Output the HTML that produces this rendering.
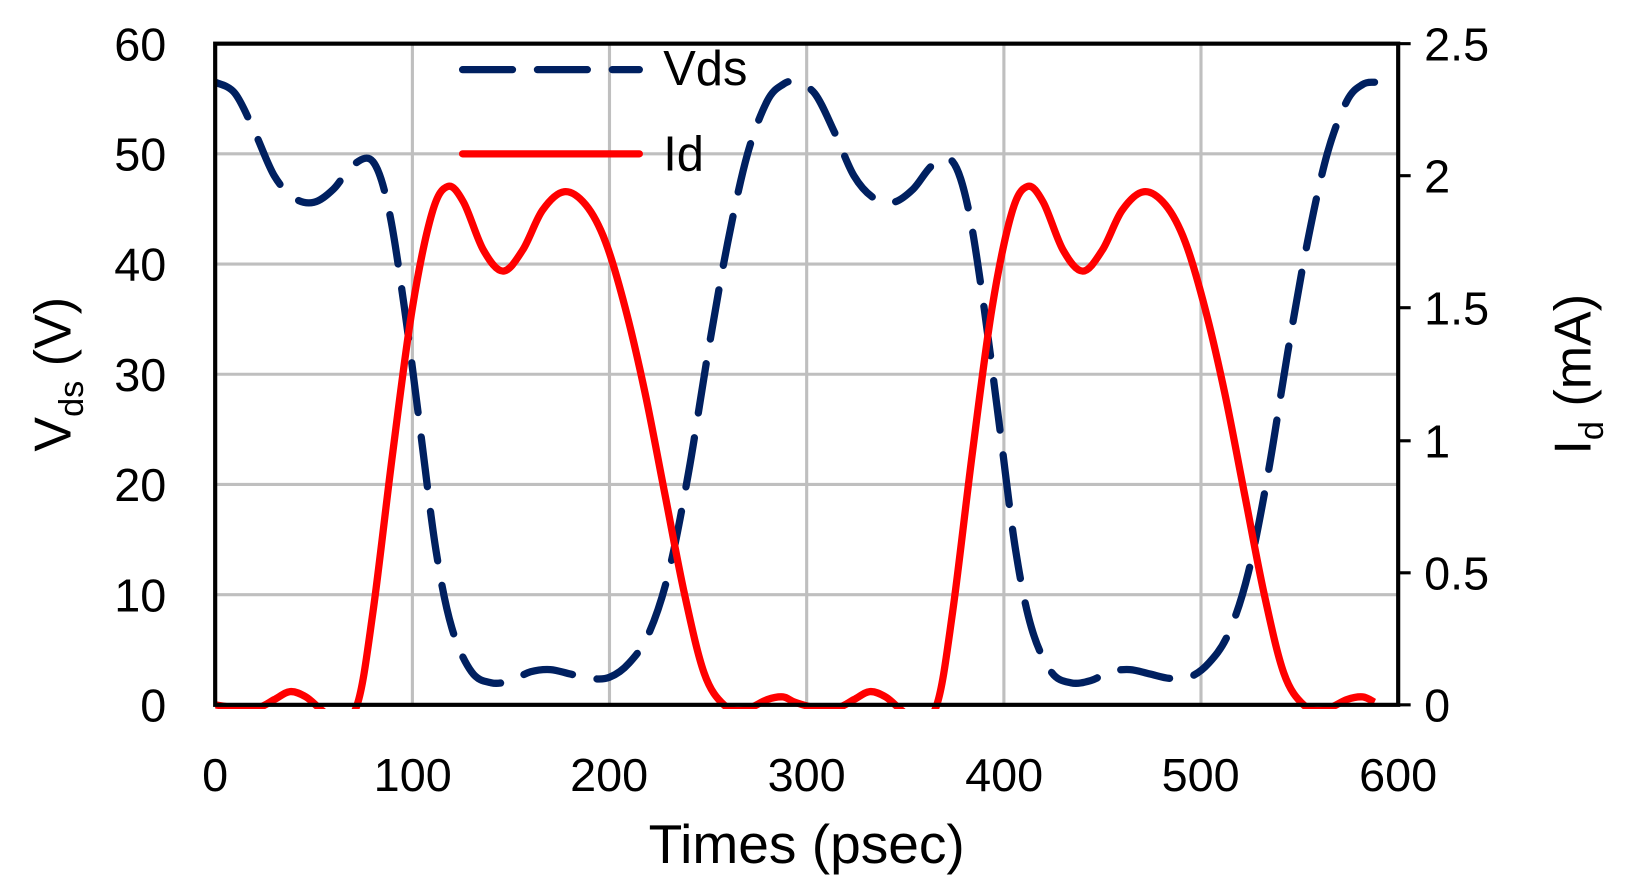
<!DOCTYPE html>
<html><head><style>body{margin:0;background:#fff}svg{display:block}text{font-family:"Liberation Sans",sans-serif;fill:#000}</style></head>
<body>
<svg id="s" width="1630" height="893" viewBox="0 0 1568 859" preserveAspectRatio="none">
<g stroke="#bfbfbf" stroke-width="3">
<line x1="396.7" y1="42" x2="396.7" y2="678"/><line x1="586.3" y1="42" x2="586.3" y2="678"/><line x1="776" y1="42" x2="776" y2="678"/><line x1="965.7" y1="42" x2="965.7" y2="678"/><line x1="1155.3" y1="42" x2="1155.3" y2="678"/>
<line x1="207" y1="148" x2="1345" y2="148"/><line x1="207" y1="254" x2="1345" y2="254"/><line x1="207" y1="360" x2="1345" y2="360"/><line x1="207" y1="466" x2="1345" y2="466"/><line x1="207" y1="572" x2="1345" y2="572"/>
</g>
<g id="curves"></g>
<rect x="207" y="42" width="1138" height="636" fill="none" stroke="#000" stroke-width="4"/>
<g stroke="#000" stroke-width="3">
<line x1="1345" y1="169" x2="1357" y2="169"/><line x1="1345" y1="296" x2="1357" y2="296"/><line x1="1345" y1="424" x2="1357" y2="424"/><line x1="1345" y1="551" x2="1357" y2="551"/><line x1="1345" y1="42" x2="1357" y2="42"/><line x1="1345" y1="678" x2="1357" y2="678"/>
</g>
<g font-size="45" text-anchor="end">
<text x="160" y="58">60</text><text x="160" y="164">50</text><text x="160" y="270">40</text><text x="160" y="376">30</text><text x="160" y="482">20</text><text x="160" y="588">10</text><text x="160" y="694">0</text>
</g>
<g font-size="45" text-anchor="start">
<text x="1370" y="58">2.5</text><text x="1370" y="185">2</text><text x="1370" y="312">1.5</text><text x="1370" y="440">1</text><text x="1370" y="567">0.5</text><text x="1370" y="694">0</text>
</g>
<g font-size="45" text-anchor="middle">
<text x="207" y="761">0</text><text x="397" y="761">100</text><text x="586" y="761">200</text><text x="776" y="761">300</text><text x="966" y="761">400</text><text x="1155" y="761">500</text><text x="1345" y="761">600</text>
</g>
<text x="776" y="830" font-size="53" text-anchor="middle">Times (psec)</text>
<text transform="translate(68,360) rotate(-90)" font-size="50" text-anchor="middle">V<tspan font-size="33" dy="12">ds</tspan><tspan dy="-12"> (V)</tspan></text>
<text transform="translate(1530,360) rotate(-90)" font-size="50" text-anchor="middle">I<tspan font-size="33" dy="12">d</tspan><tspan dy="-12"> (mA)</tspan></text>
<line x1="445" y1="67" x2="615" y2="67" stroke="#002060" stroke-width="7" stroke-linecap="round" stroke-dasharray="48,24"/>
<text x="638" y="82" font-size="47">Vds</text>
<line x1="445" y1="148" x2="615" y2="148" stroke="#ff0000" stroke-width="7" stroke-linecap="round"/>
<text x="638" y="164" font-size="47">Id</text>
</svg>
<script>
var P=294;
var v=[[0,56.5],[10,55.5],[20,52],[30,48],[40,46],[50,45.6],[60,46.8],[70,49],[80,49.3],[88,45],[96,36],[104,25],[112,14],[120,7],[130,3],[140,2],[150,2.2],[160,3],[170,3.2],[180,2.8],[190,2.4],[200,2.5],[210,3.8],[220,6.5],[230,12],[240,21],[250,32],[260,42],[270,50],[280,54.8],[288,56.3],[P,56.5]];
var ii=[[0,0],[10,-0.01],[22,-0.01],[30,0.02],[38,0.05],[46,0.03],[54,-0.02],[62,-0.06],[72,0],[80,0.35],[90,0.95],[100,1.5],[110,1.86],[118,1.96],[126,1.9],[136,1.72],[146,1.64],[156,1.72],[166,1.87],[177,1.94],[188,1.89],[198,1.75],[208,1.5],[218,1.18],[228,0.8],[238,0.42],[248,0.12],[258,0],[268,-0.02],[280,0.02],[288,0.03],[P,0.01]];
function rep(a){var r=[];a.forEach(p=>r.push(p));a.slice(1).forEach(p=>{if(p[0]+P<=592)r.push([p[0]+P,p[1]])});return r;}
function path(pts,fy){var q=pts.map(p=>[207+p[0]*1138/600,fy(p[1])]);var d="M"+q[0][0]+","+q[0][1];
for(var i=0;i<q.length-1;i++){var p0=q[i-1]||q[i],p1=q[i],p2=q[i+1],p3=q[i+2]||p2;
d+=" C"+(p1[0]+(p2[0]-p0[0])/6)+","+(p1[1]+(p2[1]-p0[1])/6)+" "+(p2[0]-(p3[0]-p1[0])/6)+","+(p2[1]-(p3[1]-p1[1])/6)+" "+p2[0]+","+p2[1];}return d;}
var g=document.getElementById("curves");
g.innerHTML='<defs><clipPath id="c"><rect x="207" y="42" width="1138" height="640"/></clipPath></defs>'+
'<path clip-path="url(#c)" d="'+path(rep(v),y=>678-y*10.6)+'" fill="none" stroke="#002060" stroke-width="7" stroke-linecap="round" stroke-dasharray="48,24"/>'+
'<path clip-path="url(#c)" d="'+path(rep(ii),y=>678-y*254.4)+'" fill="none" stroke="#ff0000" stroke-width="7"/>';
</script>
</body></html>
